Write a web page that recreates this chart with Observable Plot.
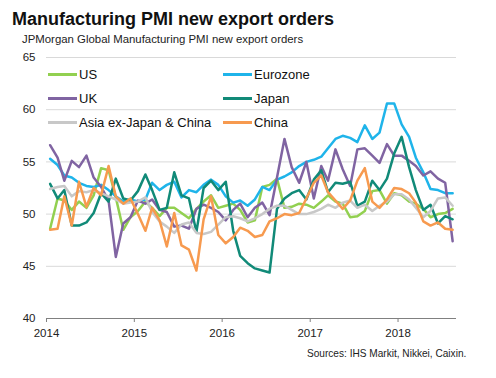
<!DOCTYPE html>
<html>
<head>
<meta charset="utf-8">
<script src="https://cdn.jsdelivr.net/npm/d3@7"></script>
<script src="https://cdn.jsdelivr.net/npm/@observablehq/plot@0.6"></script>
<style>
  body { margin: 0; background: #fff; }
  #wrap { position: relative; width: 496px; height: 378px; background: #fff; font-family: "Liberation Sans", Arial, sans-serif; color: #111; overflow: hidden; }
  .t { position: absolute; line-height: 1; white-space: nowrap; }
  .leg { position: absolute; display: flex; align-items: center; font-size: 13px; line-height: 1; white-space: nowrap; }
  .leg span.sw { display: inline-block; width: 29px; height: 3px; margin-right: 2px; }
</style>
</head>
<body>
<div id="wrap">
  <div class="t" style="left:12px;top:10px;font-size:18px;font-weight:bold;">Manufacturing PMI new export orders</div>
  <div class="t" style="left:22px;top:34px;font-size:11.4px;color:#222;">JPMorgan Global Manufacturing PMI new export orders</div>
  <div id="chart" style="position:absolute;left:0;top:48px;"></div>
  <div id="legend"></div>
  <div class="t" style="left:307px;top:349px;font-size:10.1px;color:#222;">Sources: IHS Markit, Nikkei, Caixin.</div>
</div>
<script>
// ---- data (monthly, Jan 2014 – Aug 2018) ----
const firstMonth = [2014, 0];
const monthCount = 56;

const seriesNames = ["US", "Eurozone", "UK", "Japan", "Asia ex-Japan & China", "China"];
const seriesColors = ["#92d050", "#1fb4ea", "#8064a2", "#118a78", "#c8c8c8", "#f79a4f"];

const us = [48.6, 51.5, 51.3, 50.4, 51.2, 50.6, 51.8, 54.4, 54.2, 51.6,
            48.5, 49.7, 50.3, 51.2, 50.6, 49.8, 50.6, 50.6, 50.1, 49.6,
            50.5, 51.2, 51.8, 50.6, 50.8, 51.0, 50.4, 49.2, 49.4, 52.6,
            52.8, 53.4, 50.6, 50.7, 51.0, 50.9, 50.6, 51.2, 51.8, 51.2,
            51.0, 49.7, 49.8, 50.3, 52.2, 52.3, 51.0, 52.0, 51.8, 51.2,
            51.0, 50.5, 49.7, 50.0, 50.1, 50.5];
const eurozone = [55.3, 54.7, 53.7, 53.5, 53.0, 52.7, 52.6, 52.8, 52.3, 51.7,
                  51.2, 51.4, 51.2, 51.4, 53.0, 52.3, 52.8, 53.1, 51.6, 52.3,
                  52.1, 52.8, 53.3, 52.8, 51.7, 51.1, 51.3, 50.8, 51.4, 52.6,
                  52.3, 53.3, 53.6, 54.0, 54.6, 55.0, 55.2, 55.5, 56.3, 57.2,
                  57.5, 57.3, 56.9, 58.5, 57.2, 57.8, 60.6, 60.6, 58.6, 57.4,
                  55.4, 54.0, 52.4, 52.3, 52.0, 52.0];
const uk = [56.6, 55.4, 53.2, 55.1, 54.5, 55.6, 53.5, 52.6, 51.3, 45.9,
            49.1, 49.7, 51.3, 51.0, 51.4, 50.4, 50.2, 48.8, 48.9, 48.6,
            50.5, 50.9, 50.6, 50.2, 49.4, 50.4, 51.0, 49.7, 50.6, 51.1,
            49.9, 53.5, 57.2, 54.5, 53.0, 55.0, 51.5, 54.6, 53.2, 56.2,
            54.3, 52.7, 56.2, 56.3, 55.6, 54.9, 56.7, 55.6, 55.6, 55.1,
            54.6, 53.7, 54.1, 53.4, 53.0, 47.4];
const japan = [52.9, 51.5, 52.3, 48.9, 48.9, 49.2, 50.1, 52.0, 51.2, 53.4,
               51.5, 51.3, 52.2, 53.8, 52.3, 50.4, 50.6, 54.0, 51.8, 51.5,
               48.3, 52.5, 53.2, 52.3, 53.1, 48.4, 46.0, 45.3, 44.8, 44.6,
               44.4, 50.5, 51.5, 52.0, 52.3, 51.4, 53.3, 54.2, 52.1, 53.0,
               52.9, 53.1, 50.8, 51.2, 53.2, 52.3, 53.4, 55.8, 57.4, 54.5,
               52.3, 50.4, 50.9, 49.1, 49.8, 49.5];
const asia = [52.4, 52.6, 52.7, 51.7, 52.2, 52.1, 52.3, 52.0, 51.7, 51.4,
              51.0, 51.1, 51.2, 51.6, 50.2, 49.3, 48.8, 48.2, 49.0, 49.2,
              48.2, 48.1, 48.3, 49.0, 49.7, 49.8, 49.6, 49.3, 49.6, 50.0,
              50.5, 50.8, 50.8, 50.4, 50.0, 50.0, 50.2, 50.5, 50.9, 50.6,
              51.1, 51.3, 50.6, 50.9, 50.3, 50.8, 51.2, 51.9, 51.9, 51.4,
              50.6, 49.7, 50.3, 51.5, 51.6, 50.8];
const china = [48.5, 48.6, 51.7, 48.9, 53.1, 50.7, 52.5, 51.8, 54.6, 51.7,
               51.0, 51.5, 50.0, 48.4, 50.6, 49.4, 46.9, 50.1, 47.0, 46.6,
               44.6, 49.5, 51.7, 48.0, 47.2, 47.8, 48.7, 48.4, 47.8, 48.0,
               49.3, 49.6, 50.0, 49.9, 50.1, 51.5, 53.0, 53.7, 52.1, 51.3,
               50.5, 51.3, 53.2, 54.4, 51.2, 50.6, 51.4, 52.5, 52.4, 52.0,
               51.1, 49.3, 48.9, 49.2, 48.6, 48.5];

const yTicks = [40, 45, 50, 55, 60, 65];
const xTickYears = [2014, 2015, 2016, 2017, 2018];

// ---- build ----
const allSeries = [us, eurozone, uk, japan, asia, china];
const dates = d3.range(monthCount).map(i => new Date(Date.UTC(firstMonth[0], firstMonth[1] + i, 16)));
const xTicks = xTickYears.map(y => new Date(Date.UTC(y, 0, 1)));

const chart = Plot.plot({
  width: 496,
  height: 292,
  marginTop: 9,
  marginLeft: 46,
  marginRight: 40,
  marginBottom: 22,
  style: { fontFamily: '"Liberation Sans", Arial, sans-serif', fontSize: "11.5px", color: "#222", background: "transparent" },
  x: { type: "utc", domain: [new Date(Date.UTC(2014, 0, 1)), new Date(Date.UTC(2018, 8, 1))], label: null },
  y: { domain: [40, 65], label: null },
  marks: [
    Plot.gridY(yTicks.filter(v => v > 40), { stroke: "#d9d9d9", strokeOpacity: 1 }),
    Plot.axisY(yTicks, { tickSize: 0, tickPadding: 11, label: null }),
    Plot.axisX(xTicks, { tickSize: 4, tickPadding: 6, tickFormat: "%Y", stroke: "#808080", label: null }),
    Plot.ruleY([40], { stroke: "#808080", strokeWidth: 1 }),
    ...allSeries.map((vals, k) => Plot.lineY(vals, {
      x: (d, i) => dates[i],
      y: d => d,
      stroke: seriesColors[k],
      strokeWidth: 2.5
    }))
  ]
});
document.getElementById("chart").appendChild(chart);

// ---- legend (HTML, over the plot area) ----
const legendPos = [
  { left: 48, top: 74 }, { left: 223, top: 74 },
  { left: 48, top: 98 }, { left: 223, top: 98 },
  { left: 48, top: 122 }, { left: 223, top: 122 }
];
const legend = document.getElementById("legend");
seriesNames.forEach((name, k) => {
  const el = document.createElement("div");
  el.className = "leg";
  el.style.left = legendPos[k].left + "px";
  el.style.top = (legendPos[k].top - 7) + "px";
  el.style.height = "14px";
  el.innerHTML = `<span class="sw" style="background:${seriesColors[k]}"></span><span>${name}</span>`;
  legend.appendChild(el);
});
</script>
</body>
</html>
